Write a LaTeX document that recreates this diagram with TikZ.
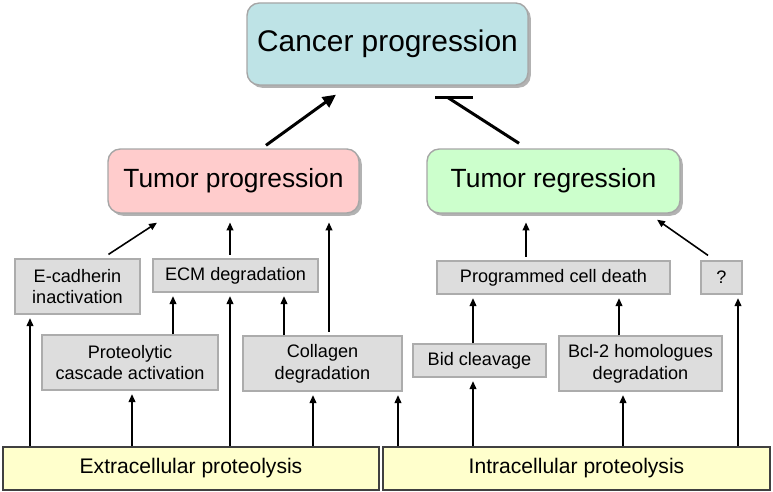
\documentclass[tikz,border=0pt]{standalone}
\usepackage{fontspec}
\setmainfont{Liberation Sans}
\usetikzlibrary{arrows.meta,calc,shadows}

\definecolor{cancerblue}{RGB}{190,227,230}
\definecolor{progpink}{RGB}{255,204,204}
\definecolor{reggreen}{RGB}{204,255,204}
\definecolor{stepgray}{RGB}{221,221,221}
\definecolor{baseyellow}{RGB}{255,255,204}

\tikzset{
  roundbox/.style={draw=gray!70, line width=0.8pt, rounded corners=7pt, inner sep=0pt, align=center,
    general shadow={fill=gray!60, shadow xshift=1.6pt, shadow yshift=-1.6pt}},
  stepbox/.style={draw=gray!65, line width=0.7pt, fill=stepgray, inner sep=0pt, align=center,
    font=\fontsize{10.3}{12.4}\selectfont},
  basebox/.style={draw=black!75, line width=0.7pt, fill=baseyellow, inner sep=0pt,
    minimum height=0.86cm, font=\fontsize{12}{14}\selectfont},
  arr/.style={-{Triangle[length=4.5pt,width=3.8pt]}, line width=0.9pt, shorten >=2pt},
  arrlong/.style={arr, shorten >=5pt, shorten <=2pt},
  bigarr/.style={-{Triangle[length=7.5pt,width=7pt]}, line width=1.7pt},
  bigline/.style={line width=1.7pt}
}

\begin{document}
\begin{tikzpicture}[x=0.02cm, y=-0.02cm]
    \useasboundingbox (0,0) rectangle (773,492);

    % \node[style] (identifier) at (pixel position) {display};
    \node[roundbox, fill=cancerblue, minimum width=5.62cm, minimum height=1.64cm,
      font=\fontsize{17}{20}\selectfont] (cancer) at (387.5,44) {Cancer progression};
    \node[roundbox, fill=progpink, minimum width=5.02cm, minimum height=1.28cm,
      font=\fontsize{15}{18}\selectfont] (tumprog) at (233.5,181) {Tumor progression};
    \node[roundbox, fill=reggreen, minimum width=5.06cm, minimum height=1.28cm,
      font=\fontsize{15}{18}\selectfont] (tumreg) at (553.5,181) {Tumor regression};

    \node[stepbox, minimum width=2.5cm, minimum height=1.1cm] (ecad) at (77.5,286.5) {E-cadherin\\inactivation};
    \node[stepbox, minimum width=3.3cm, minimum height=0.66cm] (ecm) at (235.5,275.5) {ECM degradation};
    \node[stepbox, minimum width=3.52cm, minimum height=1.1cm] (cascade) at (130,362.5) {Proteolytic\\cascade activation};
    \node[stepbox, minimum width=3.18cm, minimum height=1.1cm] (collagen) at (322.5,363.5) {Collagen\\degradation};
    \node[stepbox, minimum width=4.66cm, minimum height=0.66cm] (pcd) at (553.5,277.5) {Programmed cell death};
    \node[stepbox, minimum width=0.82cm, minimum height=0.66cm] (unknown) at (721.5,277.5) {?};
    \node[stepbox, minimum width=2.66cm, minimum height=0.66cm] (bid) at (479.5,360.5) {Bid cleavage};
    \node[stepbox, minimum width=3.26cm, minimum height=1.1cm] (bcl) at (640.5,363.5) {Bcl-2 homologues\\degradation};

    \node[basebox, minimum width=7.52cm] (extra) at (191,468.5) {Extracellular proteolysis};
    \node[basebox, minimum width=7.74cm] (intra) at (576.5,468.5) {Intracellular proteolysis};

    % (start identifier -| x) -- (target identifier -| x)
    \draw[arr] (extra.north -| 30,0) -- (ecad.south -| 30,0);
    \draw[arr] (extra.north -| 132,0) -- (cascade.south -| 132,0);
    \draw[arr] (extra.north -| 230,0) -- (ecm.south -| 230,0);
    \draw[arr] (extra.north -| 313,0) -- (collagen.south -| 313,0);
    \draw[arr] (intra.north -| 398,0) -- (collagen.south -| 398,0);
    \draw[arr] (intra.north -| 473,0) -- (bid.south -| 473,0);
    \draw[arr] (intra.north -| 623,0) -- (bcl.south -| 623,0);
    \draw[arr] (intra.north -| 738,0) -- (unknown.south -| 738,0);

    \draw[arr] (cascade.north -| 173,0) -- (ecm.south -| 173,0);
    \draw[arr] (collagen.north -| 284,0) -- (ecm.south -| 284,0);
    \draw[arr] (bid.north -| 473,0) -- (pcd.south -| 473,0);
    \draw[arr] (bcl.north -| 619,0) -- (pcd.south -| 619,0);

    \draw[arrlong] (ecm.north -| 230,0) -- (tumprog.south -| 230,0);
    \draw[arrlong] (collagen.north -| 329,0) -- (tumprog.south -| 329,0);
    \draw[arrlong] (pcd.north -| 526,0) -- (tumreg.south -| 526,0);
    \draw[arr, shorten >=0pt] ($(ecad.north)+(31,-4)$) -- ($(tumprog.south)+(-76.5,9)$);
    \draw[arr, shorten >=0pt] ($(unknown.north)+(-13.5,-5)$) -- ($(tumreg.south)+(103.5,6)$);

    \draw[bigarr] ($(tumprog.north)+(32.5,-3)$) -- ($(cancer.south)+(-51.5,9)$);
    \draw[bigline] ($(tumreg.north)+(-34.5,-5)$) -- ($(cancer.south)+(60.5,12)$);
    \draw[bigline] ($(cancer.south)+(47.5,12)$) -- ($(cancer.south)+(85.5,12)$);
\end{tikzpicture}
\end{document}
